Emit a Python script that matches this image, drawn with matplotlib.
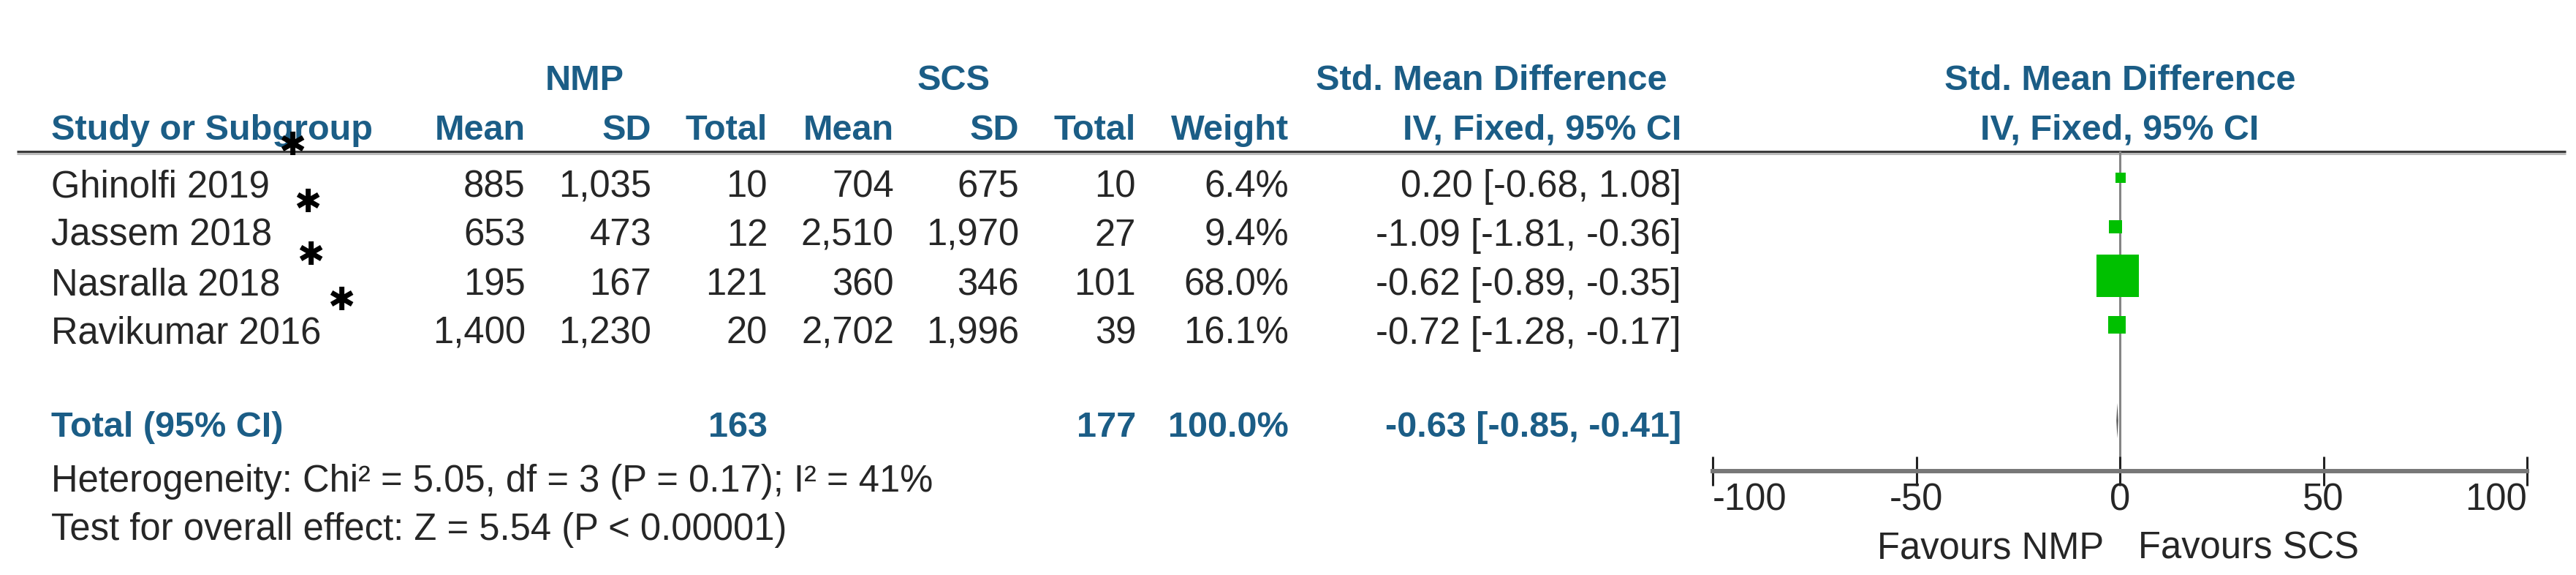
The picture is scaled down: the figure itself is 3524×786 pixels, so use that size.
import matplotlib
matplotlib.use("Agg")
import matplotlib.pyplot as plt

plt.rcParams['font.family'] = ['Liberation Sans', 'DejaVu Sans']

# ---- data ----
studies = ['Ghinolfi 2019', 'Jassem 2018', 'Nasralla 2018', 'Ravikumar 2016']
nmp_mean = [885, 653, 195, 1400]
nmp_sd = [1035, 473, 167, 1230]
nmp_n = [10, 12, 121, 20]
scs_mean = [704, 2510, 360, 2702]
scs_sd = [675, 1970, 346, 1996]
scs_n = [10, 27, 101, 39]
weight = [6.4, 9.4, 68.0, 16.1]
smd = [0.20, -1.09, -0.62, -0.72]
ci_lo = [-0.68, -1.81, -0.89, -1.28]
ci_hi = [1.08, -0.36, -0.35, -0.17]
total_weight = 100.0
total_smd = -0.63
total_lo = -0.85
total_hi = -0.41
ticks = [-100, -50, 0, 50, 100]
heterogeneity = 'Heterogeneity: Chi\u00b2 = 5.05, df = 3 (P = 0.17); I\u00b2 = 41%'
overall = 'Test for overall effect: Z = 5.54 (P < 0.00001)'

# ---- layout (pixels) ----
W, H = 3524, 786
HEAD = '#1b5d86'
TXT = '#262626'
FS = 36.5
FSB = 35
row_y = [243 + 67 * i for i in range(len(studies))]
total_y = 575
col_right = [719, 891, 1050, 1223, 1394, 1554, 1763, 2300]
fx0, fx1 = 2343, 3457
line_y, axis_y = 207, 644

fig = plt.figure(figsize=(W / 100, H / 100), dpi=100)
ax = fig.add_axes([0, 0, 1, 1])
ax.set_xlim(0, W)
ax.set_ylim(H, 0)
ax.axis('off')

# headers
ax.text(800, 123, 'NMP', ha='center', va='baseline', fontsize=FSB, fontweight='bold', color=HEAD)
ax.text(1305, 123, 'SCS', ha='center', va='baseline', fontsize=FSB, fontweight='bold', color=HEAD)
ax.text(2280, 123, 'Std. Mean Difference', ha='right', va='baseline', fontsize=FSB, fontweight='bold', color=HEAD)
ax.text((fx0 + fx1) / 2, 123, 'Std. Mean Difference', ha='center', va='baseline', fontsize=FSB, fontweight='bold', color=HEAD)

heads = ['Mean', 'SD', 'Total', 'Mean', 'SD', 'Total', 'Weight', 'IV, Fixed, 95% CI']
ax.text(70, 191, 'Study or Subgroup', ha='left', va='baseline', fontsize=FSB, fontweight='bold', color=HEAD)
for x, h in zip(col_right, heads):
    ax.text(x, 191, h, ha='right', va='baseline', fontsize=FSB, fontweight='bold', color=HEAD)
ax.text((fx0 + fx1) / 2, 191, 'IV, Fixed, 95% CI', ha='center', va='baseline', fontsize=FSB, fontweight='bold', color=HEAD)

ax.plot([23, 3510], [line_y, line_y], color='#3c3c3c', lw=2.2, solid_capstyle='butt')
ax.plot([23, 3510], [line_y + 3, line_y + 3], color='#b8b8b8', lw=2.0, solid_capstyle='butt')

# study rows
for i, name in enumerate(studies):
    base = row_y[i] + 26
    ax.text(70, base, name, ha='left', va='baseline', fontsize=FS, color=TXT)
    vals = [f'{nmp_mean[i]:,}', f'{nmp_sd[i]:,}', f'{nmp_n[i]}',
            f'{scs_mean[i]:,}', f'{scs_sd[i]:,}', f'{scs_n[i]}',
            f'{weight[i]:.1f}%', f'{smd[i]:.2f} [{ci_lo[i]:.2f}, {ci_hi[i]:.2f}]']
    for x, v in zip(col_right, vals):
        ax.text(x, base, v, ha='right', va='baseline', fontsize=FS, color=TXT)

# asterisk annotations next to study names
star_xy = [(400, 200), (421, 278), (425, 349), (467, 412)]
for sx, sy in star_xy:
    ax.text(sx, sy, '\u2731', ha='center', va='center', fontsize=32, color='black',
            family='DejaVu Sans')

# total row
ax.text(70, 597, 'Total (95% CI)', ha='left', va='baseline', fontsize=FSB, fontweight='bold', color=HEAD)
tot_vals = {2: f'{sum(nmp_n)}', 5: f'{sum(scs_n)}', 6: f'{total_weight:.1f}%',
            7: f'{total_smd:.2f} [{total_lo:.2f}, {total_hi:.2f}]'}
for k, v in tot_vals.items():
    ax.text(col_right[k], 597, v, ha='right', va='baseline', fontsize=FSB, fontweight='bold', color=HEAD)

ax.text(70, 672, heterogeneity, ha='left', va='baseline', fontsize=FS, color=TXT)
ax.text(70, 738, overall, ha='left', va='baseline', fontsize=FS, color=TXT)

# ---- forest panel ----
fa = fig.add_axes([fx0 / W, (H - axis_y) / H, (fx1 - fx0) / W, (axis_y - line_y) / H])
fa.set_xlim(ticks[0], ticks[-1])
fa.set_ylim(axis_y, line_y)
fa.patch.set_alpha(0)
for s in ['top', 'left', 'right']:
    fa.spines[s].set_visible(False)
fa.spines['bottom'].set_color('#777777')
fa.spines['bottom'].set_linewidth(4.3)
fa.set_yticks([])
fa.set_xticks(ticks)
fa.set_xticklabels([str(t) for t in ticks], fontsize=FS, color=TXT)
fa.tick_params(axis='x', direction='inout', length=29, width=2.2, color='#222222', pad=-3)
labs = fa.get_xticklabels()
labs[0].set_ha('left')
labs[-1].set_ha('right')

fa.axvline(0, color='#858585', lw=2.2, zorder=1)
fa.hlines(row_y, ci_lo, ci_hi, color='#555555', lw=1.4, zorder=2)
sides = [58 * 0.72 * (w / max(weight)) ** 0.6 for w in weight]
fa.scatter(smd, row_y, s=[sd ** 2 for sd in sides], marker='s', color='#00c000',
           linewidths=0, zorder=3)
fa.fill([total_lo, total_smd, total_hi, total_smd],
        [total_y, total_y - 24, total_y, total_y + 24], color='#555555', lw=0, zorder=3)

ax.text(2878, 763, 'Favours NMP', ha='right', va='baseline', fontsize=FS, color=TXT)
ax.text(2925, 763, 'Favours SCS', ha='left', va='baseline', fontsize=FS, color=TXT)

fig.savefig('out.png', dpi=100, facecolor='white')
